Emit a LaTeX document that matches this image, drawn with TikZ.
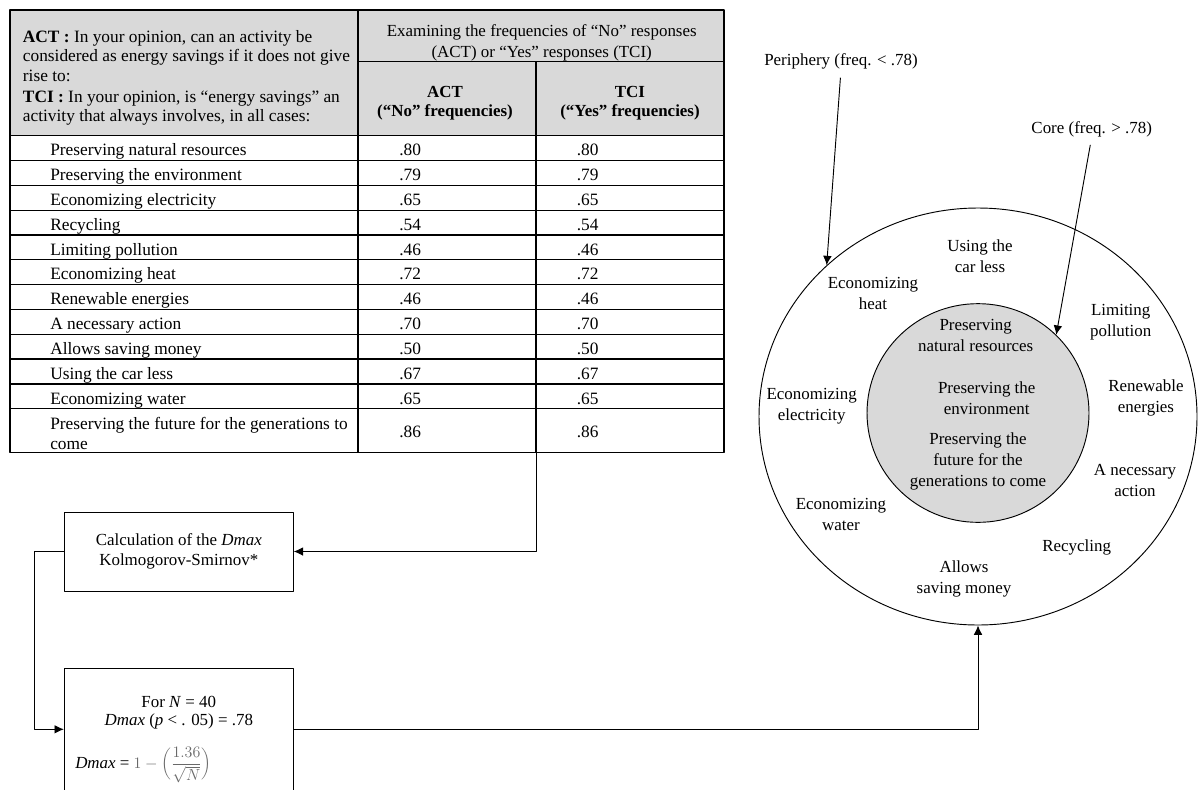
\documentclass[tikz,border=0pt]{standalone}
\usepackage{fontspec}
\setmainfont{Liberation Serif}
\usepackage{tikz}
\usetikzlibrary{arrows.meta,shapes}
\definecolor{cellgray}{RGB}{217,217,217}
\definecolor{formgray}{RGB}{105,105,105}

\tikzset{
  tabtxt/.style={anchor=base west,inner sep=0pt,align=left,font=\fontsize{13}{14.5}\selectfont},
  headtxt/.style={inner sep=0pt,align=center,font=\fontsize{12.7}{16}\selectfont},
  colhead/.style={inner sep=0pt,align=center,font=\fontsize{12.7}{14.5}\selectfont\bfseries},
  ringtxt/.style={inner sep=0pt,align=center,font=\fontsize{12.7}{15.75}\selectfont},
  stepbox/.style={draw,line width=0.7pt,minimum width=171.75pt,inner sep=0pt,align=center,font=\fontsize{12.7}{15}\selectfont},
  rule/.style={line width=0.9pt},
}

\begin{document}
\begin{tikzpicture}[>={Latex[length=7pt,width=6.5pt]},line join=bevel,x=0.75pt,y=-0.75pt]
\useasboundingbox (0,0) rectangle (1198,789);
%% table
\fill [cellgray] (10,10) rectangle (724,135.7);
\draw [rule] (10,10) rectangle (724,452.7);
\draw [rule] (358,10) -- (358,452.7);
\draw [rule] (358,61.7) -- (724,61.7);
\draw [rule] (536,61.7) -- (536,452.7);
\foreach \k in {0,...,11}
  \draw [rule] (10,135.7+24.82*\k) -- (724,135.7+24.82*\k);
\node (qhead) at (22.7,78) [tabtxt,anchor=west] {\textbf{ACT :} In your opinion, can an activity be\\considered as energy savings if it does not give\\rise to:\\[1.5pt]\textbf{TCI :} In your opinion, is “energy savings” an\\activity that always involves, in all cases:};
\node (fhead) at (541.7,43) [headtxt] {Examining the frequencies of “No” responses\\(ACT) or “Yes” responses (TCI)};
\node (acthead) at (445,103) [colhead] {ACT\\(“No” frequencies)};
\node (tcihead) at (630,103) [colhead] {TCI\\(“Yes” frequencies)};
\foreach \lab/\val [count=\i from 0] in {Preserving natural resources/.80,
    Preserving the environment/.79, Economizing electricity/.65,
    Recycling/.54, Limiting pollution/.46, Economizing heat/.72,
    Renewable energies/.46, A necessary action/.70,
    Allows saving money/.50, Using the car less/.67, Economizing water/.65}
{
  \node (row\i) at (50,155.8+24.82*\i) [tabtxt] {\lab};
  \node (act\i) at (399,155.8+24.82*\i) [tabtxt] {\val};
  \node (tci\i) at (576.5,155.8+24.82*\i) [tabtxt] {\val};
}
\node (row11) at (50,433.5) [tabtxt,anchor=west] {Preserving the future for the generations to\\come};
\node (act11) at (399,437.5) [tabtxt] {.86};
\node (tci11) at (576.5,437.5) [tabtxt] {.86};
\coordinate (tabfoot) at (536,452.7);
%% boxes
\node (calc) at (178.8,551.5) [stepbox,minimum height=59.25pt] {Calculation of the \textit{Dmax}\\Kolmogorov-Smirnov*};
\node (dmaxbox) at (178.8,729.3) [stepbox,minimum height=91.5pt] {};
\node (nline) at (178.8,701.7) [ringtxt] {For \textit{N} = 40};
\node (dline) at (178.8,721.7) [ringtxt] {\textit{Dmax} (\textit{p} < . 05) = .78};
\node (fline) at (75,765) [ringtxt,anchor=west] {\textit{Dmax} = \textcolor{formgray}{$\displaystyle 1-\biggl(\frac{1.36}{\sqrt{N}}\biggr)$}};
%% rings
\node (outer) at (978,416.5) [draw,ellipse,line width=0.7pt,inner sep=0pt,minimum width=328.5pt,minimum height=312.75pt] {};
\node (inner) at (978,413) [draw,ellipse,fill=cellgray,line width=0.7pt,inner sep=0pt,minimum width=166.5pt,minimum height=164pt] {};
\node (peri) at (841,61.7) [ringtxt] {Periphery (freq. < .78)};
\node (core) at (1091.7,129) [ringtxt] {Core (freq. > .78)};
\node (carless) at (980,256) [ringtxt] {Using the\\car less};
\node (heat) at (873,293) [ringtxt] {Economizing\\heat};
\node (natres) at (975.7,335.7) [ringtxt] {Preserving\\natural resources};
\node (pollut) at (1120.7,322) [ringtxt] {Limiting\\pollution};
\node (elec) at (811.7,406) [ringtxt] {Economizing\\electricity};
\node (envir) at (986.7,398) [ringtxt] {Preserving the\\environment};
\node (renew) at (1146,398) [ringtxt] {Renewable\\energies};
\node (future) at (978,461.7) [ringtxt] {Preserving the\\future for the\\generations to come};
\node (necess) at (1135,480.7) [ringtxt] {A necessary\\action};
\node (water) at (841,514) [ringtxt] {Economizing\\water};
\node (recyc) at (1076.7,547.7) [ringtxt] {Recycling};
\node (money) at (964,579) [ringtxt] {Allows\\saving money};
%% connectors
\draw [->,line width=0.7pt] (tabfoot) |- (calc.east);
\draw [->,line width=0.7pt] (calc.west) -- ++(-29.3,0) |- (dmaxbox.west);
\draw [->,line width=0.7pt] (dmaxbox.east) -| (outer.south);
\draw [->,line width=0.7pt,shorten <=6pt] (peri.south) -- (outer.135.5);
\draw [->,line width=0.7pt,shorten <=6pt] (core.south) -- (inner.45);
%
\end{tikzpicture}
\end{document}
